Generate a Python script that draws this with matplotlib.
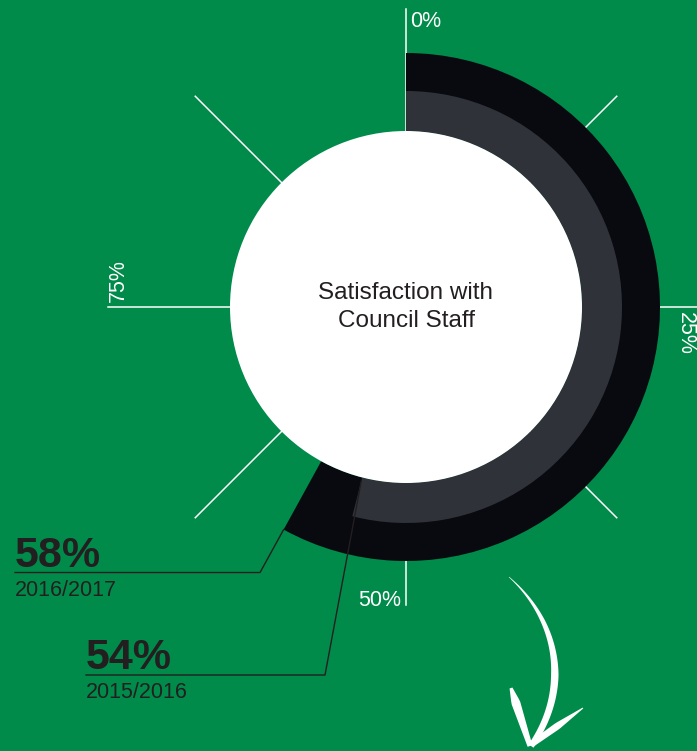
import numpy as np
import matplotlib.pyplot as plt
from matplotlib.patches import Wedge, Circle, Polygon

# data
years = ["2016/2017", "2015/2016"]
values = [58, 54]
tick_labels = ["0%", "25%", "50%", "75%"]

GREEN = "#008B4A"
BLACK = "#090910"
GREY = "#30323A"
DARK = "#231F20"

narrow = ["Liberation Sans Narrow", "Liberation Sans", "DejaVu Sans"]
regular = ["Liberation Sans", "DejaVu Sans"]

W, H = 697, 751
CX, CY = 406, 307          # centre in pixels


def P(px, py):
    # pixel position -> data coords (centre at 0,0, y up)
    return px - CX, CY - py


def polar(r, pct):
    a = np.deg2rad(90 - pct * 3.6)
    return r * np.cos(a), r * np.sin(a)


fig = plt.figure(figsize=(W / 100, H / 100), dpi=100)
fig.patch.set_facecolor(GREEN)
ax = fig.add_axes([0, 0, 1, 1])
ax.set_xlim(-CX, W - CX)
ax.set_ylim(CY - H, CY)
ax.set_aspect("equal")
ax.axis("off")

R_IN, R_MID, R_OUT = 176, 216, 254

# spokes
for k in range(8):
    x0, y0 = polar(R_IN - 2, k * 12.5)
    x1, y1 = polar(298, k * 12.5)
    ax.plot([x0, x1], [y0, y1], color="white", lw=1.1, zorder=1)

# rings: outer = latest year, inner = previous year
ax.add_patch(Wedge((0, 0), R_OUT, 90 - values[0] * 3.6, 90,
                   width=R_OUT - R_IN, color=BLACK, lw=0, zorder=2))
ax.add_patch(Wedge((0, 0), R_MID, 90 - values[1] * 3.6, 90,
                   width=R_MID - R_IN, color=GREY, lw=0, zorder=3))
ax.add_patch(Circle((0, 0), R_IN, color="white", lw=0, zorder=4))

ax.text(0, 0, "Satisfaction with\nCouncil Staff", ha="center", va="center",
        fontsize=17.5, family=regular, color=DARK, linespacing=1.3, zorder=5)

# tick labels
ax.text(*P(410, 27), tick_labels[0], ha="left", va="baseline", fontsize=15.5,
        family=narrow, color="white")
ax.text(*P(696, 312), tick_labels[1], ha="right", va="top", rotation=-90,
        fontsize=15.5, family=narrow, color="white")
ax.text(*P(401, 606), tick_labels[2], ha="right", va="baseline", fontsize=15.5,
        family=narrow, color="white")
ax.text(*P(108, 302), tick_labels[3], ha="left", va="bottom", rotation=90,
        fontsize=15.5, family=narrow, color="white")

# leader lines + value labels
x0, y0 = polar(R_OUT, values[0])
x1, y1 = polar(303, values[0])
lx = P(15, 0)[0]
ax.plot([x0, x1, lx], [y0, y1, y1], color=DARK, lw=1, zorder=5)
ax.text(lx, y1 + 6, f"{values[0]}%", ha="left", va="baseline", fontsize=31,
        family=narrow, weight="bold", color=DARK)
ax.text(lx, y1 - 7, years[0], ha="left", va="top", fontsize=15.5,
        family=narrow, color=DARK)

x0, y0 = polar(R_IN + 4, values[1])
x1, y1 = P(325, 675)
lx = P(86, 0)[0]
ax.plot([x0, x1, lx], [y0, y1, y1], color=DARK, lw=1, zorder=5)
ax.text(lx, y1 + 6, f"{values[1]}%", ha="left", va="baseline", fontsize=31,
        family=narrow, weight="bold", color=DARK)
ax.text(lx, y1 - 7, years[1], ha="left", va="top", fontsize=15.5,
        family=narrow, color=DARK)


# hand drawn arrow
def brush(pts, widths):
    pts = np.asarray(pts, float)
    d = np.gradient(pts, axis=0)
    d /= np.linalg.norm(d, axis=1)[:, None]
    n = np.column_stack([-d[:, 1], d[:, 0]])
    w = np.asarray(widths)[:, None] / 2
    poly = np.vstack([pts + n * w, (pts - n * w)[::-1]])
    ax.add_patch(Polygon(poly, closed=True, color="white", lw=0, zorder=6))


t = np.linspace(0, 1, 60)[:, None]
c = [np.array(P(*p)) for p in [(509, 577), (560, 622), (570, 690), (531, 746)]]
shaft = ((1 - t) ** 3 * c[0] + 3 * (1 - t) ** 2 * t * c[1]
         + 3 * (1 - t) * t ** 2 * c[2] + t ** 3 * c[3])
brush(shaft, np.interp(t[:, 0], [0, 0.3, 0.6, 1], [0.5, 4.5, 7.5, 6]))

t = np.linspace(0, 1, 20)
a, b = np.array(P(511, 688)), np.array(P(530, 746))
brush(a + (b - a) * t[:, None], np.interp(t, [0, 0.25, 1], [3, 9, 5]))
a, b = np.array(P(583, 708)), np.array(P(532, 744))
brush(a + (b - a) * t[:, None], np.interp(t, [0, 0.5, 1], [1, 7, 6]))

fig.savefig("out.png", dpi=100, facecolor=GREEN)
